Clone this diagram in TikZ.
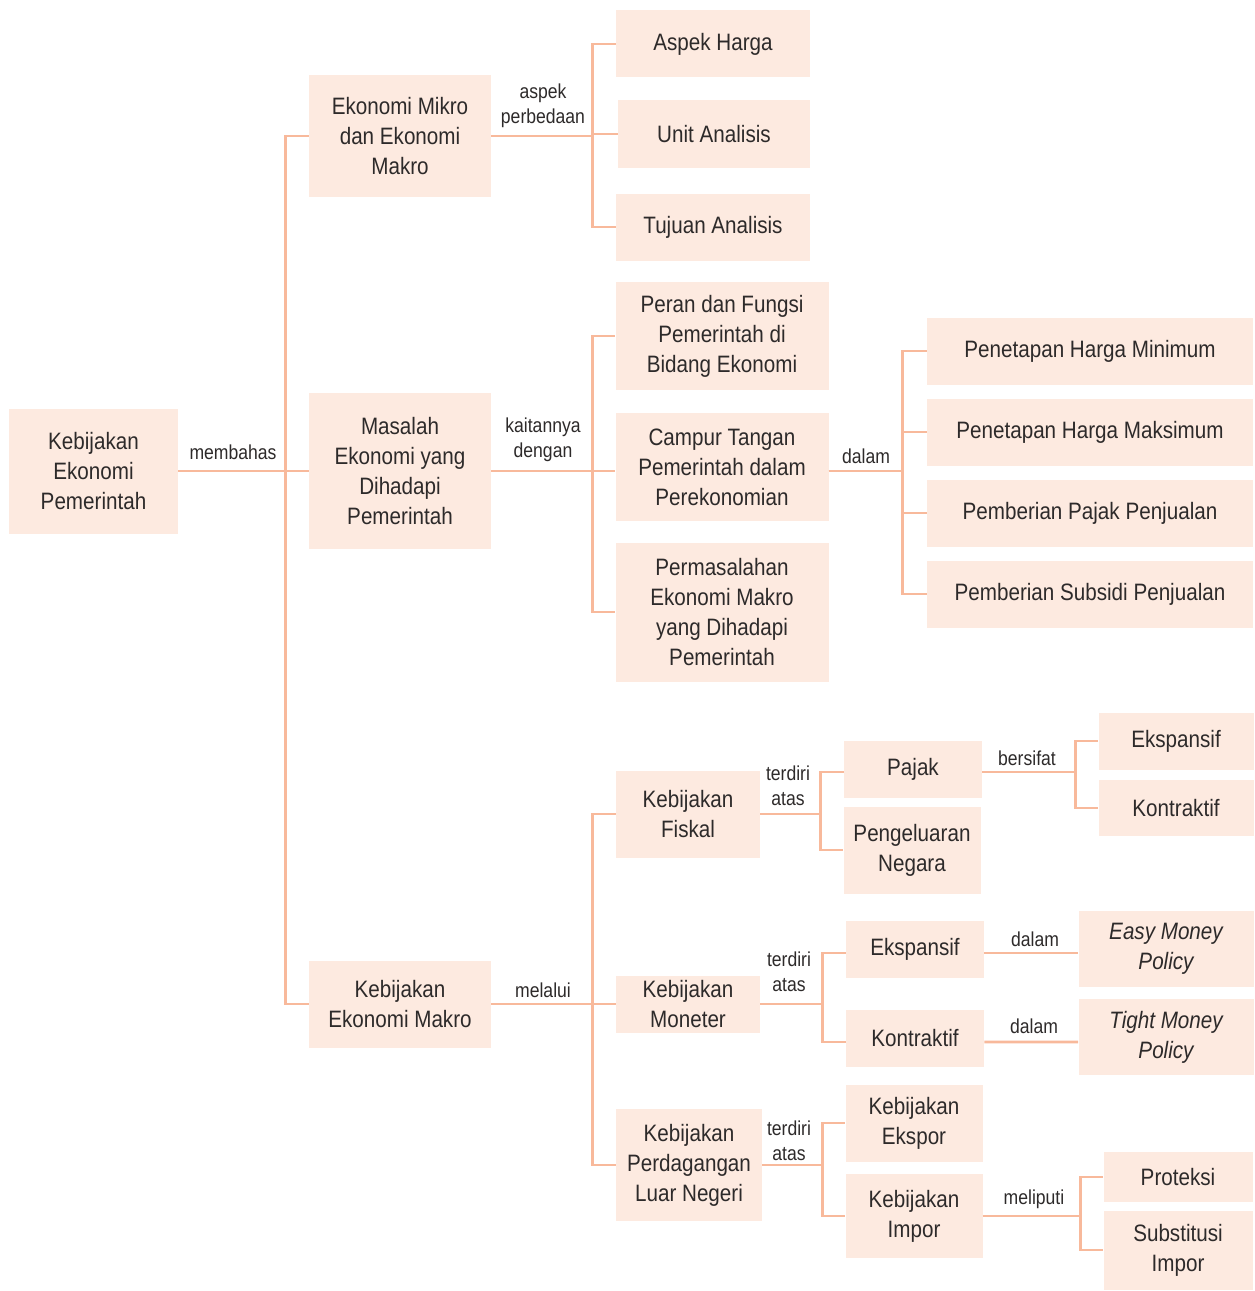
\documentclass[tikz,border=0pt]{standalone}
\usepackage{fontspec}
\setmainfont{Liberation Sans}[FakeStretch=0.87]
\usetikzlibrary{positioning}
\definecolor{boxpeach}{RGB}{253,234,224}
\definecolor{linepeach}{RGB}{248,185,155}
\definecolor{txtgray}{RGB}{45,42,42}

\begin{document}
\begin{tikzpicture}[x=0.02cm, y=-0.02cm,
    box/.style={rectangle, fill=boxpeach, text=txtgray, align=center, inner sep=0pt, font=\fontsize{13.5}{17}\selectfont},
    sz/.style 2 args={minimum width=#1*0.02cm, minimum height=#2*0.02cm},
    lbl/.style={text=txtgray, align=center, inner sep=0pt, font=\fontsize{11.5}{14}\selectfont},
    conn/.style={draw=linepeach, line width=1.6pt}]

    \useasboundingbox (0,0) rectangle (1254,1291);

    % root and first level
    \node[box, sz={169}{125}] (kep) at (93.5,471) {Kebijakan\\Ekonomi\\Pemerintah};
    \node[box, sz={182}{122}] (mikro) at (400,136) {Ekonomi Mikro\\dan Ekonomi\\Makro};
    \node[box, sz={182}{156}] (masalah) at (400,471) {Masalah\\Ekonomi yang\\Dihadapi\\Pemerintah};
    \node[box, sz={182}{87}] (makro) at (400,1004) {Kebijakan\\Ekonomi Makro};

    % mikro dan makro
    \node[box, sz={194}{67}] (harga) at (713,44) {Aspek Harga};
    \node[box, sz={192}{67}] (unit) at (714,134) {Unit Analisis};
    \node[box, sz={194}{67}] (tujuan) at (713,227) {Tujuan Analisis};

    % masalah ekonomi
    \node[box, sz={213}{108}] (peran) at (722,336) {Peran dan Fungsi\\Pemerintah di\\Bidang Ekonomi};
    \node[box, sz={213}{108}] (campur) at (722,467) {Campur Tangan\\Pemerintah dalam\\Perekonomian};
    \node[box, sz={213}{139}] (permas) at (722,612) {Permasalahan\\Ekonomi Makro\\yang Dihadapi\\Pemerintah};
    \node[box, sz={326}{67}] (hmin) at (1090,351) {Penetapan Harga Minimum};
    \node[box, sz={326}{67}] (hmaks) at (1090,432) {Penetapan Harga Maksimum};
    \node[box, sz={326}{67}] (pajakjual) at (1090,513) {Pemberian Pajak Penjualan};
    \node[box, sz={326}{67}] (subsidi) at (1090,594) {Pemberian Subsidi Penjualan};

    % kebijakan fiskal
    \node[box, sz={144}{87}] (fiskal) at (688,814) {Kebijakan\\Fiskal};
    \node[box, sz={138}{57}] (pajak) at (913,769) {Pajak};
    \node[box, sz={137}{87}] (belanja) at (912,850) {Pengeluaran\\Negara};
    \node[box, sz={155}{57}] (fekspan) at (1176,741) {Ekspansif};
    \node[box, sz={155}{56}] (fkontra) at (1176,808) {Kontraktif};

    % kebijakan moneter
    \node[box, sz={144}{57}] (moneter) at (688,1004) {Kebijakan\\Moneter};
    \node[box, sz={138}{57}] (mekspan) at (915,949) {Ekspansif};
    \node[box, sz={138}{57}] (mkontra) at (915,1038) {Kontraktif};
    \node[box, sz={175}{76}] (easy) at (1166,949) {\itshape Easy Money\\\itshape Policy};
    \node[box, sz={175}{76}] (tight) at (1166,1037) {\itshape Tight Money\\\itshape Policy};

    % perdagangan luar negeri
    \node[box, sz={146}{112}] (dagang) at (689,1165) {Kebijakan\\Perdagangan\\Luar Negeri};
    \node[box, sz={137}{77}] (ekspor) at (914,1123) {Kebijakan\\Ekspor};
    \node[box, sz={137}{84}] (impor) at (914,1216) {Kebijakan\\Impor};
    \node[box, sz={149}{50}] (proteksi) at (1178,1177) {Proteksi};
    \node[box, sz={149}{79}] (substitusi) at (1178,1250) {Substitusi\\Impor};

    % connectors
    \draw[conn] (kep.east) -- ++(107,0) |- (mikro.west);
    \draw[conn] (kep.east) -- ++(107,0) |- (masalah.west);
    \draw[conn] (kep.east) -- ++(107,0) |- (makro.west);

    \draw[conn] (mikro.east) -- ++(101,0) |- (harga.west);
    \draw[conn] (mikro.east) -- ++(101,0) |- (unit.west);
    \draw[conn] (mikro.east) -- ++(101,0) |- (tujuan.west);

    \draw[conn] (masalah.east) -- ++(101,0) |- (peran.west);
    \draw[conn] (masalah.east) -- ++(101,0) |- ([yshift=-0.08cm]campur.west);
    \draw[conn] (masalah.east) -- ++(101,0) |- (permas.west);

    \draw[conn] ([yshift=-0.08cm]campur.east) -- ++(74,0) |- (hmin.west);
    \draw[conn] ([yshift=-0.08cm]campur.east) -- ++(74,0) |- (hmaks.west);
    \draw[conn] ([yshift=-0.08cm]campur.east) -- ++(74,0) |- (pajakjual.west);
    \draw[conn] ([yshift=-0.08cm]campur.east) -- ++(74,0) |- (subsidi.west);

    \draw[conn] (makro.east) -- ++(101,0) |- (fiskal.west);
    \draw[conn] (makro.east) -- ++(101,0) |- (moneter.west);
    \draw[conn] (makro.east) -- ++(101,0) |- (dagang.west);

    \draw[conn] (fiskal.east) -- ++(60,0) |- ([yshift=-0.06cm]pajak.west);
    \draw[conn] (fiskal.east) -- ++(60,0) |- (belanja.west);
    \draw[conn] ([yshift=-0.06cm]pajak.east) -- ++(93,0) |- (fekspan.west);
    \draw[conn] ([yshift=-0.06cm]pajak.east) -- ++(93,0) |- (fkontra.west);

    \draw[conn] (moneter.east) -- ++(62,0) |- ([yshift=-0.08cm]mekspan.west);
    \draw[conn] (moneter.east) -- ++(62,0) |- ([yshift=-0.08cm]mkontra.west);
    \draw[conn] ([yshift=-0.08cm]mekspan.east) -- ([yshift=-0.08cm]easy.west);
    \draw[conn] ([yshift=-0.08cm]mkontra.east) -- ([yshift=-0.1cm]tight.west);

    \draw[conn] (dagang.east) -- ++(60,0) |- (ekspor.west);
    \draw[conn] (dagang.east) -- ++(60,0) |- (impor.west);
    \draw[conn] (impor.east) -- ++(98,0) |- (proteksi.west);
    \draw[conn] (impor.east) -- ++(98,0) |- (substitusi.west);

    % connector labels
    \node[lbl] (lmembahas) at (233,452) {membahas};
    \node[lbl] (laspek) at (543,106) {aspek\\perbedaan};
    \node[lbl] (lkait) at (543,440) {kaitannya\\dengan};
    \node[lbl] (ldalam1) at (866,456) {dalam};
    \node[lbl] (lmelalui) at (543,990) {melalui};
    \node[lbl] (latas1) at (788,786) {terdiri\\atas};
    \node[lbl] (lsifat) at (1027,758) {bersifat};
    \node[lbl] (latas2) at (789,972) {terdiri\\atas};
    \node[lbl] (ldalam2) at (1035,939) {dalam};
    \node[lbl] (ldalam3) at (1034,1026) {dalam};
    \node[lbl] (latas3) at (789,1141) {terdiri\\atas};
    \node[lbl] (lliputi) at (1034,1199) {meliputi};
\end{tikzpicture}
\end{document}
